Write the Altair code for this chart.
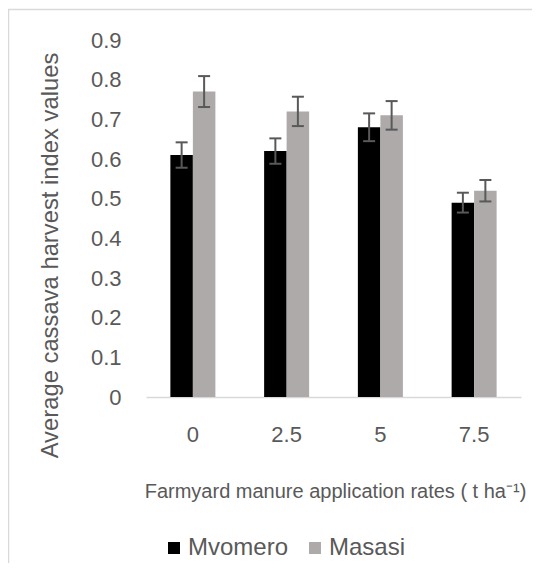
import altair as alt
import pandas as pd

categories = ["0", "2.5", "5", "7.5"]
series = ["Mvomero", "Masasi"]
mvomero_values = [0.61, 0.62, 0.68, 0.49]
mvomero_errors = [0.032, 0.032, 0.035, 0.025]
masasi_values = [0.77, 0.72, 0.71, 0.52]
masasi_errors = [0.039, 0.037, 0.036, 0.027]
y_ticks = [0, 0.1, 0.2, 0.3, 0.4, 0.5, 0.6, 0.7, 0.8, 0.9]

rows = []
for name, vals, errs in [("Mvomero", mvomero_values, mvomero_errors),
                         ("Masasi", masasi_values, masasi_errors)]:
    for c, v, e in zip(categories, vals, errs):
        rows.append({"rate": c, "series": name, "value": v,
                     "lo": v - e, "hi": v + e})
df = pd.DataFrame(rows)

FONT = "Liberation Sans"
TXT = "#595959"


def x_axis():
    return alt.Axis(title="Farmyard manure application rates ( t ha⁻¹)",
                    labelAngle=0, ticks=False, tickSize=0,
                    labelPadding=44, labelBaseline="alphabetic",
                    labelFontSize=22, labelColor=TXT, labelFont=FONT,
                    domainColor="#D9D9D9", domainWidth=1.5,
                    titleFontSize=20, titleFont=FONT, titleColor=TXT,
                    titleFontWeight="normal", titleX=189, titleY=100,
                    titleAlign="center", titleBaseline="alphabetic",
                    titleLimit=0, grid=False)


def y_axis():
    return alt.Axis(title="Average cassava harvest index values",
                    values=y_ticks, format=".1~f", domain=False,
                    ticks=False, tickSize=0, grid=False,
                    labelOverlap=False,
                    labelPadding=25, labelFontSize=22, labelColor=TXT,
                    labelFont=FONT, titleFontSize=23.8, titleFont=FONT,
                    titleColor=TXT, titleFontWeight="normal",
                    titleAngle=-90, titleX=-89, titleY=215,
                    titleAlign="center", titleBaseline="alphabetic",
                    titleLimit=0)


x_scale = alt.Scale(domain=categories, paddingInner=0.52, paddingOuter=0.26)
xo_scale = alt.Scale(domain=series, paddingInner=0, paddingOuter=0)
y_scale = alt.Scale(domain=[0, 0.9], nice=False)


def xe():
    return alt.X("rate:N", sort=categories, scale=x_scale, axis=x_axis())


def xoe():
    return alt.XOffset("series:N", sort=series, scale=xo_scale)


def ye(field):
    return alt.Y(f"{field}:Q", scale=y_scale, axis=y_axis())


bars = alt.Chart(df).mark_bar().encode(
    x=xe(),
    xOffset=xoe(),
    y=ye("value"),
    color=alt.Color("series:N", sort=series,
                    scale=alt.Scale(domain=series, range=["#000000", "#AEAAAA"]),
                    legend=alt.Legend(title=None, orient="none", legendX=16,
                                      legendY=496, direction="horizontal",
                                      symbolType="square", symbolSize=144,
                                      symbolStrokeWidth=0, symbolOpacity=1,
                                      labelFontSize=24, labelFont=FONT,
                                      labelColor=TXT, labelOffset=2,
                                      columnPadding=14, padding=0)),
)

err_rule = alt.Chart(df).mark_rule(color=TXT, strokeWidth=2).encode(
    x=xe(),
    xOffset=xoe(),
    y=ye("lo"),
    y2="hi:Q",
)
cap_hi = alt.Chart(df).mark_tick(color=TXT, thickness=2, size=12, opacity=1).encode(
    x=xe(),
    xOffset=xoe(),
    y=ye("hi"),
)
cap_lo = alt.Chart(df).mark_tick(color=TXT, thickness=2, size=12, opacity=1).encode(
    x=xe(),
    xOffset=xoe(),
    y=ye("lo"),
)

border = alt.Chart(pd.DataFrame({"a": [0]})).mark_rect(
    fill=None, stroke="#D9D9D9", strokeWidth=1.5
).encode(x=alt.value(-137.5), x2=alt.value(600), y=alt.value(-30.5), y2=alt.value(700))

chart = alt.layer(border, bars, err_rule, cap_hi, cap_lo).properties(
    width=375, height=357,
    padding={"left": 138, "top": 32, "right": 11, "bottom": 166},
    autosize=alt.AutoSizeParams(type="none"),
    background="white",
).configure_view(stroke="transparent", strokeWidth=0)

chart.save("out.html", embed_options={"renderer": "svg", "actions": False})
